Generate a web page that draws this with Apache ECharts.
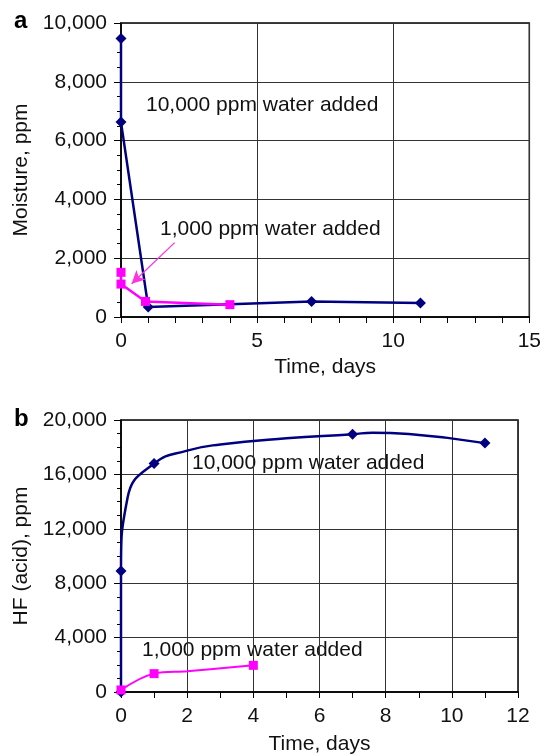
<!DOCTYPE html>
<html>
<head>
<meta charset="utf-8">
<script src="https://cdn.jsdelivr.net/npm/echarts@6/dist/echarts.min.js"></script>
<style>
  html, body { margin: 0; padding: 0; background: #fff; }
  #chart { width: 544px; height: 756px; }
</style>
</head>
<body>
<div id="chart"></div>
<script>
// panel a: moisture vs time
const moistHighDays = [0, 0, 1, 7, 11];
const moistHighPpm = [9470, 6630, 340, 530, 480];
const moistLowDays = [0, 0, 0.9, 4];
const moistLowPpm = [1520, 1120, 530, 420];

// panel b: HF (acid) vs time (some points only shape the curve, no marker)
const acidHighDays = [0, 0, 0.2, 1, 2, 3, 5, 7, 7.6, 8.7, 11];
const acidHighPpm = [0, 8900, 14300, 16800, 17750, 18200, 18650, 18950, 19070, 18970, 18300];
const acidHighMarked = [true, true, false, true, false, false, false, true, false, false, true];
const acidLowDays = [0, 1, 2, 4];
const acidLowPpm = [150, 1350, 1520, 1960];
const acidLowMarked = [true, true, false, true];

const navy = '#000080';
const pink = '#ff00ff';
const font = 'Liberation Sans, Arial, sans-serif';

function pairs(xs, ys, marked) {
    return xs.map((x, i) => {
        const item = { value: [x, ys[i]] };
        if (marked && !marked[i]) item.symbol = 'none';
        return item;
    });
}

function xAxisFor(idx, max, interval, minorSplit, gap) {
    return {
        type: 'value', gridIndex: idx, min: 0, max: max, interval: interval,
        name: 'Time, days', nameLocation: 'middle', nameGap: gap,
        nameTextStyle: { fontFamily: font, fontSize: 21, color: '#111' },
        axisLine: { lineStyle: { color: '#000', width: 1.5 } },
        axisTick: { show: true, inside: false, length: 6, lineStyle: { color: '#000' } },
        minorTick: { show: true, splitNumber: minorSplit, length: 6, lineStyle: { color: '#000' } },
        axisLabel: { fontFamily: font, fontSize: 21, color: '#111', margin: 14 },
        splitLine: { show: true, lineStyle: { color: '#333', width: 1 } }
    };
}

function yAxisFor(idx, max, interval, name) {
    return {
        type: 'value', gridIndex: idx, min: 0, max: max, interval: interval,
        name: name, nameLocation: 'middle', nameGap: 87,
        nameTextStyle: { fontFamily: font, fontSize: 21, color: '#111' },
        axisLine: { lineStyle: { color: '#000', width: 1.5 } },
        axisTick: { show: true, inside: false, length: 7, lineStyle: { color: '#000' } },
        minorTick: { show: true, splitNumber: 4, length: 4, lineStyle: { color: '#000' } },
        axisLabel: { fontFamily: font, fontSize: 21, color: '#111', margin: 14 },
        splitLine: { show: true, lineStyle: { color: '#333', width: 1 } }
    };
}

const chart = echarts.init(document.getElementById('chart'), null, { renderer: 'canvas' });

const option = {
    animation: false,
    backgroundColor: '#fff',
    title: [
        { text: 'a', left: 9, top: 4, textStyle: { fontFamily: font, fontSize: 24, fontWeight: 'bold', color: '#000' } },
        { text: 'b', left: 9, top: 402, textStyle: { fontFamily: font, fontSize: 24, fontWeight: 'bold', color: '#000' } }
    ],
    grid: [
        { left: 121, top: 23, width: 411, height: 294, show: true, borderColor: '#000', borderWidth: 1.5, backgroundColor: 'transparent' },
        { left: 121, top: 420, width: 397, height: 273, show: true, borderColor: '#000', borderWidth: 1.5, backgroundColor: 'transparent' }
    ],
    xAxis: [
        xAxisFor(0, 15, 5, 5, 40),
        xAxisFor(1, 12, 2, 2, 42)
    ],
    yAxis: [
        yAxisFor(0, 10000, 2000, 'Moisture, ppm'),
        yAxisFor(1, 20000, 4000, 'HF (acid), ppm')
    ],
    graphic: [
        { type: 'text', x: 146, y: 105, style: { text: '10,000 ppm water added', font: '21px ' + font, fill: '#111', verticalAlign: 'middle' } },
        { type: 'text', x: 160, y: 229, style: { text: '1,000 ppm water added', font: '21px ' + font, fill: '#111', verticalAlign: 'middle' } },
        { type: 'text', x: 192, y: 463, style: { text: '10,000 ppm water added', font: '21px ' + font, fill: '#111', verticalAlign: 'middle' } },
        { type: 'text', x: 142, y: 650, style: { text: '1,000 ppm water added', font: '21px ' + font, fill: '#111', verticalAlign: 'middle' } }
    ],
    series: [
        {
            name: '10,000 ppm (moisture)', type: 'line', xAxisIndex: 0, yAxisIndex: 0,
            data: pairs(moistHighDays, moistHighPpm),
            symbol: 'diamond', symbolSize: 11, clip: false,
            lineStyle: { color: navy, width: 2.5 }, itemStyle: { color: navy }
        },
        {
            name: '1,000 ppm (moisture)', type: 'line', xAxisIndex: 0, yAxisIndex: 0,
            data: pairs(moistLowDays, moistLowPpm),
            symbol: 'rect', symbolSize: 9, clip: false,
            lineStyle: { color: pink, width: 2.5 }, itemStyle: { color: pink },
            markLine: {
                silent: true, symbol: ['none', 'arrow'], symbolSize: [10, 13],
                label: { show: false },
                lineStyle: { color: '#ff33dd', width: 1.3, type: 'solid' },
                data: [[{ coord: [1.97, 2530] }, { coord: [0.39, 1130] }]]
            }
        },
        {
            name: '10,000 ppm (acid)', type: 'line', xAxisIndex: 1, yAxisIndex: 1,
            data: pairs(acidHighDays, acidHighPpm, acidHighMarked),
            smooth: 0.5, symbol: 'diamond', symbolSize: 11, clip: false,
            lineStyle: { color: navy, width: 2.5 }, itemStyle: { color: navy }
        },
        {
            name: '1,000 ppm (acid)', type: 'line', xAxisIndex: 1, yAxisIndex: 1,
            data: pairs(acidLowDays, acidLowPpm, acidLowMarked),
            smooth: 0.35, symbol: 'rect', symbolSize: 9, clip: false,
            lineStyle: { color: pink, width: 2 }, itemStyle: { color: pink }
        }
    ]
};

chart.setOption(option);
</script>
</body>
</html>
